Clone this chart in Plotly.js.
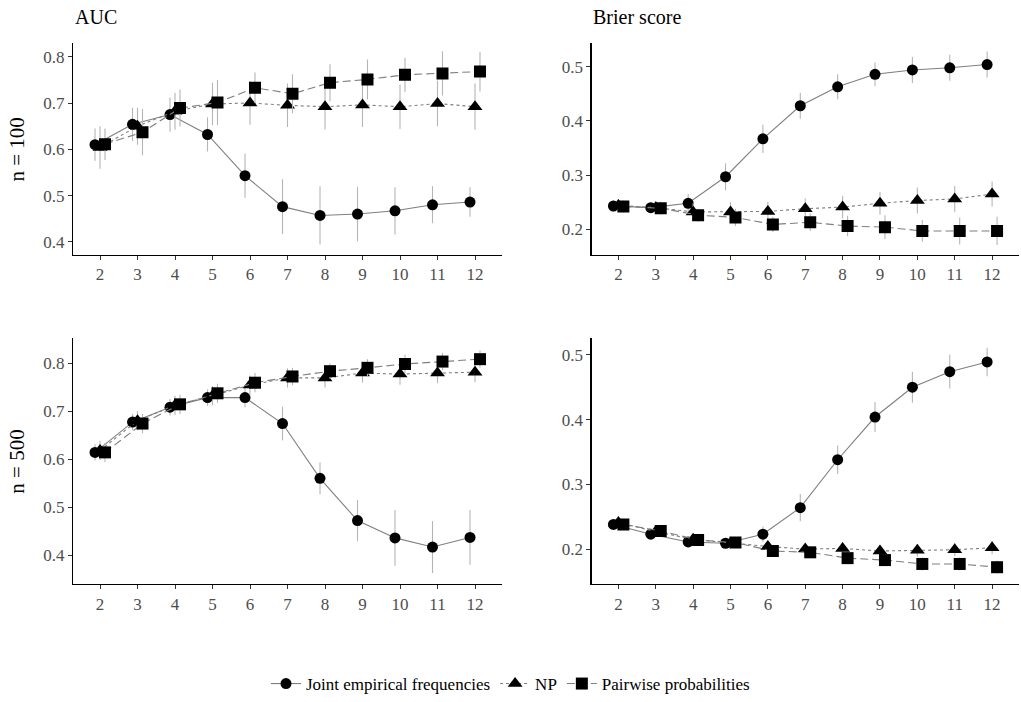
<!DOCTYPE html>
<html>
<head>
<meta charset="utf-8">
<script src="https://cdn.plot.ly/plotly-3.0.1.min.js"></script>
<style>html,body{margin:0;padding:0;background:#fff;}#chart{width:1021px;height:702px;}</style>
</head>
<body>
<div id="chart"></div>
<script>
// Number of items (x categories)
const items = [2, 3, 4, 5, 6, 7, 8, 9, 10, 11, 12];
const methods = ["Joint empirical frequencies", "NP", "Pairwise probabilities"];

// AUC, n = 100
const auc100_joint    = [0.610, 0.654, 0.675, 0.632, 0.543, 0.476, 0.457, 0.460, 0.467, 0.480, 0.486];
const auc100_joint_e  = [0.035, 0.036, 0.037, 0.037, 0.048, 0.059, 0.063, 0.059, 0.051, 0.040, 0.032];
const auc100_np       = [0.604, 0.650, 0.682, 0.698, 0.700, 0.695, 0.692, 0.696, 0.692, 0.699, 0.692];
const auc100_np_e     = [0.046, 0.040, 0.040, 0.046, 0.047, 0.047, 0.049, 0.048, 0.048, 0.049, 0.050];
const auc100_pair     = [0.611, 0.637, 0.689, 0.701, 0.733, 0.720, 0.744, 0.751, 0.761, 0.764, 0.768];
const auc100_pair_e   = [0.034, 0.050, 0.040, 0.049, 0.033, 0.042, 0.040, 0.043, 0.037, 0.048, 0.043];

// Brier score, n = 100
const brier100_joint   = [0.243, 0.240, 0.248, 0.297, 0.367, 0.428, 0.463, 0.486, 0.494, 0.498, 0.504];
const brier100_joint_e = [0.010, 0.010, 0.017, 0.025, 0.026, 0.024, 0.023, 0.022, 0.024, 0.024, 0.024];
const brier100_np      = [0.244, 0.240, 0.232, 0.232, 0.233, 0.238, 0.241, 0.248, 0.253, 0.256, 0.265];
const brier100_np_e    = [0.012, 0.012, 0.016, 0.018, 0.018, 0.019, 0.021, 0.021, 0.024, 0.024, 0.023];
const brier100_pair    = [0.242, 0.239, 0.226, 0.222, 0.209, 0.213, 0.206, 0.204, 0.197, 0.197, 0.197];
const brier100_pair_e  = [0.011, 0.012, 0.012, 0.016, 0.014, 0.016, 0.019, 0.022, 0.020, 0.025, 0.026];

// AUC, n = 500
const auc500_joint    = [0.614, 0.677, 0.708, 0.728, 0.728, 0.674, 0.560, 0.472, 0.436, 0.417, 0.437];
const auc500_joint_e  = [0.017, 0.017, 0.017, 0.017, 0.020, 0.035, 0.033, 0.043, 0.058, 0.054, 0.057];
const auc500_np       = [0.618, 0.680, 0.712, 0.732, 0.754, 0.769, 0.769, 0.779, 0.777, 0.779, 0.781];
const auc500_np_e     = [0.020, 0.020, 0.020, 0.020, 0.020, 0.020, 0.020, 0.020, 0.022, 0.021, 0.021];
const auc500_pair     = [0.614, 0.674, 0.714, 0.737, 0.759, 0.772, 0.783, 0.790, 0.798, 0.803, 0.808];
const auc500_pair_e   = [0.020, 0.020, 0.020, 0.020, 0.020, 0.018, 0.016, 0.018, 0.019, 0.018, 0.018];

// Brier score, n = 500
const brier500_joint   = [0.238, 0.223, 0.211, 0.209, 0.223, 0.264, 0.338, 0.404, 0.450, 0.474, 0.489];
const brier500_joint_e = [0.006, 0.006, 0.006, 0.007, 0.012, 0.021, 0.022, 0.023, 0.024, 0.026, 0.022];
const brier500_np      = [0.241, 0.227, 0.215, 0.209, 0.204, 0.200, 0.201, 0.197, 0.198, 0.199, 0.202];
const brier500_np_e    = [0.006, 0.006, 0.006, 0.007, 0.008, 0.008, 0.009, 0.009, 0.010, 0.010, 0.010];
const brier500_pair    = [0.238, 0.228, 0.214, 0.210, 0.197, 0.195, 0.186, 0.183, 0.177, 0.177, 0.172];
const brier500_pair_e  = [0.006, 0.006, 0.006, 0.007, 0.008, 0.008, 0.009, 0.009, 0.010, 0.010, 0.010];

const xTickLabels = items.map(String);

const FONT = "Liberation Serif";
const dodge = [-0.133, 0, 0.133];
const symbols = ["circle", "triangle-up", "square"];
const dashes = ["solid", "3px,3px", "8px,4px"];
const msize = [11, 13, 12];

const panels = [
  {xa: "x",  ya: "y",  data: [[auc100_joint, auc100_joint_e], [auc100_np, auc100_np_e], [auc100_pair, auc100_pair_e]]},
  {xa: "x2", ya: "y2", data: [[brier100_joint, brier100_joint_e], [brier100_np, brier100_np_e], [brier100_pair, brier100_pair_e]]},
  {xa: "x3", ya: "y3", data: [[auc500_joint, auc500_joint_e], [auc500_np, auc500_np_e], [auc500_pair, auc500_pair_e]]},
  {xa: "x4", ya: "y4", data: [[brier500_joint, brier500_joint_e], [brier500_np, brier500_np_e], [brier500_pair, brier500_pair_e]]}
];

const traces = [];
panels.forEach((p, pi) => {
  p.data.forEach((d, mi) => {
    traces.push({
      type: "scatter", mode: "lines+markers",
      x: items.map(v => v + dodge[mi]),
      y: d[0],
      xaxis: p.xa, yaxis: p.ya,
      name: methods[mi],
      legendgroup: methods[mi],
      showlegend: pi === 0,
      line: {color: "#7f7f7f", width: 1.1, dash: dashes[mi]},
      marker: {color: "#000000", symbol: symbols[mi], size: msize[mi]},
      error_y: {type: "data", array: d[1], visible: true, color: "#b5b5b5", thickness: 1.1, width: 0}
    });
  });
});

function xax(domain, anchor) {
  return {
    domain: domain, anchor: anchor, range: [1.28, 12.72],
    tickmode: "array", tickvals: items, ticktext: xTickLabels,
    showgrid: false, zeroline: false, showline: true, linecolor: "#000", linewidth: 1.2,
    ticks: "outside", ticklen: 4, tickcolor: "#333", tickwidth: 1,
    tickfont: {family: FONT, size: 17, color: "#4d4d4d"}, fixedrange: true
  };
}
function yax(domain, anchor, range, tickvals) {
  return {
    domain: domain, anchor: anchor, range: range,
    tickmode: "array", tickvals: tickvals, ticktext: tickvals.map(v => v.toFixed(1)),
    showgrid: false, zeroline: false, showline: true, linecolor: "#000", linewidth: 1.2,
    ticks: "outside", ticklen: 4, tickcolor: "#333", tickwidth: 1,
    tickfont: {family: FONT, size: 17, color: "#4d4d4d"}, fixedrange: true
  };
}

const W = 1021, H = 702;
const dx1 = [73 / W, 502 / W], dx2 = [591.5 / W, 1019 / W];
const dyTop = [1 - 255.5 / H, 1 - 43 / H], dyBot = [1 - 585.7 / H, 1 - 339 / H];

const layout = {
  width: W, height: H,
  margin: {l: 0, r: 0, t: 0, b: 0},
  paper_bgcolor: "#fff", plot_bgcolor: "#fff",
  font: {family: FONT, color: "#000"},
  showlegend: true,
  legend: {
    orientation: "h", x: 0.5, xanchor: "center", y: 1 - 686 / H, yanchor: "middle",
    font: {family: FONT, size: 17, color: "#000"}, itemwidth: 30, tracegroupgap: 0
  },
  xaxis: xax(dx1, "y"), yaxis: yax(dyTop, "x", [0.372, 0.830], [0.4, 0.5, 0.6, 0.7, 0.8]),
  xaxis2: xax(dx2, "y2"), yaxis2: yax(dyTop, "x2", [0.153, 0.544], [0.2, 0.3, 0.4, 0.5]),
  xaxis3: xax(dx1, "y3"), yaxis3: yax(dyBot, "x3", [0.340, 0.852], [0.4, 0.5, 0.6, 0.7, 0.8]),
  xaxis4: xax(dx2, "y4"), yaxis4: yax(dyBot, "x4", [0.146, 0.526], [0.2, 0.3, 0.4, 0.5]),
  annotations: [
    {text: "AUC", xref: "paper", yref: "paper", x: 73 / W, y: 1 - 17 / H, xanchor: "left", yanchor: "middle", showarrow: false, font: {family: FONT, size: 20, color: "#000"}},
    {text: "Brier score", xref: "paper", yref: "paper", x: 591 / W, y: 1 - 17 / H, xanchor: "left", yanchor: "middle", showarrow: false, font: {family: FONT, size: 20, color: "#000"}},
    {text: "n = 100", xref: "paper", yref: "paper", x: 17 / W, y: 1 - 150 / H, xanchor: "center", yanchor: "middle", textangle: -90, showarrow: false, font: {family: FONT, size: 21, color: "#000"}},
    {text: "n = 500", xref: "paper", yref: "paper", x: 17 / W, y: 1 - 463 / H, xanchor: "center", yanchor: "middle", textangle: -90, showarrow: false, font: {family: FONT, size: 21, color: "#000"}}
  ]
};

Plotly.newPlot("chart", traces, layout, {staticPlot: true, displayModeBar: false});
</script>
</body>
</html>
